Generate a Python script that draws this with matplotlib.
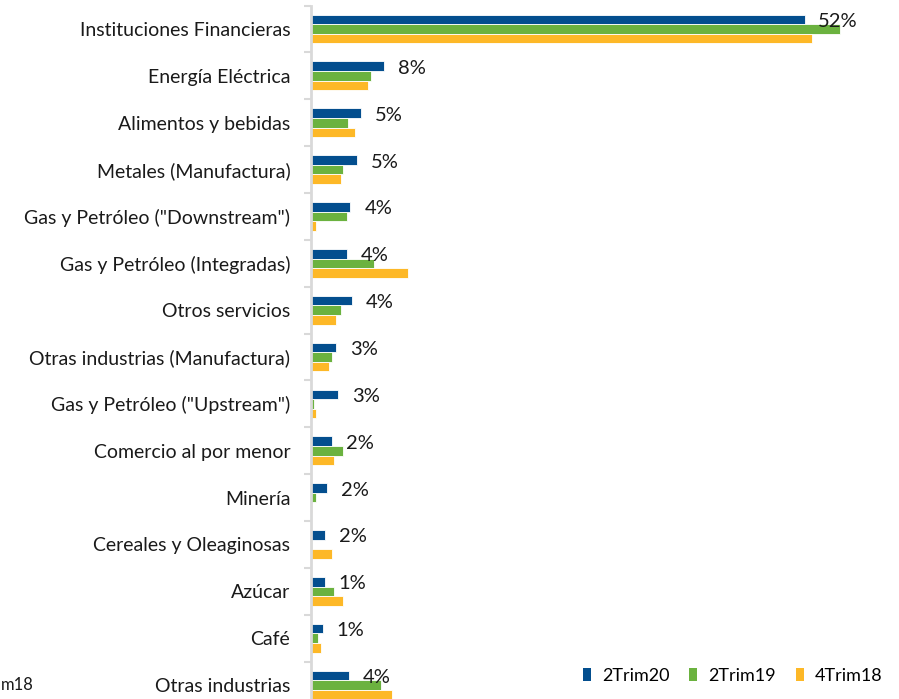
import matplotlib
matplotlib.use("Agg")
import matplotlib.pyplot as plt
import numpy as np
from matplotlib.patches import Patch

categories = [
    "Instituciones Financieras", "Energía Eléctrica", "Alimentos y bebidas",
    "Metales (Manufactura)", 'Gas y Petróleo ("Downstream")',
    "Gas y Petróleo (Integradas)", "Otros servicios",
    "Otras industrias (Manufactura)", 'Gas y Petróleo ("Upstream")',
    "Comercio al por menor", "Minería", "Cereales y Oleaginosas",
    "Azúcar", "Café", "Otras industrias",
]
s_2trim20 = [52.0, 7.7, 5.3, 4.9, 4.2, 3.8, 4.4, 2.7, 2.9, 2.3, 1.7, 1.5, 1.5, 1.3, 4.0]
s_2trim19 = [55.7, 6.4, 3.9, 3.4, 3.8, 6.7, 3.2, 2.3, 0.4, 3.4, 0.6, 0.2, 2.5, 0.8, 7.4]
s_4trim18 = [52.8, 6.1, 4.7, 3.2, 0.6, 10.3, 2.7, 1.9, 0.6, 2.5, 0.2, 2.3, 3.4, 1.1, 8.6]
data_labels = ["52%", "8%", "5%", "5%", "4%", "4%", "4%", "3%", "3%", "2%", "2%", "2%", "1%", "1%", "4%"]
series_names = ["2Trim20", "2Trim19", "4Trim18"]
colors = ["#034E8E", "#6BB23F", "#FDB827"]

plt.rcParams['font.family'] = ['Lato', 'DejaVu Sans']

W, H = 899, 699
fig = plt.figure(figsize=(W / 100, H / 100), dpi=100)
left_px, right_px = 310.5, 899
top_px, bot_px = 5.6, 708.5
ax = fig.add_axes([left_px / W, 1 - bot_px / H, (right_px - left_px) / W, (bot_px - top_px) / H])

n = len(categories)
y = np.arange(n)
bh = 0.205
series = [s_2trim20, s_2trim19, s_4trim18]
for i, (vals, c) in enumerate(zip(series, colors)):
    ax.barh(y + (i - 1) * bh, vals, height=bh, color=c, edgecolor="white", linewidth=0.6)

for yi, v, lab in zip(y, s_2trim20, data_labels):
    ax.annotate(lab, xy=(v, yi - bh), xytext=(10, -1.5), textcoords="offset points",
                va="center", ha="left", fontsize=14.5, color="#1a1a1a")

ax.set_xlim(0, (right_px - left_px) / 9.5)
ax.set_ylim(n - 0.5, -0.5)
ax.set_yticks(y)
ax.set_yticklabels(categories, fontsize=14, color="#1a1a1a")
ax.set_yticks(np.arange(-0.5, n, 1), minor=True)
ax.tick_params(axis="y", which="major", length=0, pad=14.5)
ax.tick_params(axis="y", which="minor", length=5, width=1.5, color="#D9D9D9")
ax.set_xticks([])
for s in ["top", "right", "bottom"]:
    ax.spines[s].set_visible(False)
ax.spines["left"].set_color("#D9D9D9")
ax.spines["left"].set_linewidth(2)

handles = [Patch(facecolor=c, edgecolor="none") for c in colors]
fig.legend(handles, series_names, loc="center right", bbox_to_anchor=(886 / W, 1 - 676 / H),
           ncol=3, frameon=False, fontsize=13, handlelength=0.45, handleheight=0.7,
           handletextpad=0.6, columnspacing=1.1, borderaxespad=0, borderpad=0.2)

fig.text(1 / W, 1 - 685 / H, "m18", fontsize=12, va="center", ha="left", color="#1a1a1a")

fig.savefig("out.png", dpi=100)
